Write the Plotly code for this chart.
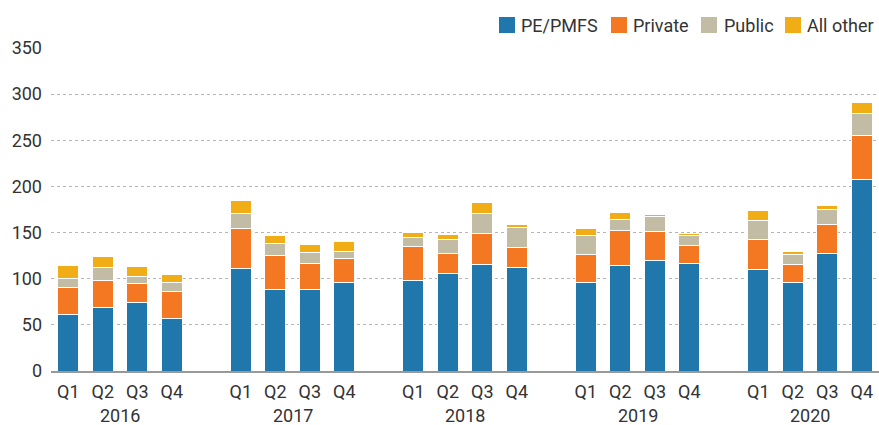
import plotly.graph_objects as go

years = ["2016", "2017", "2018", "2019", "2020"]
quarters = ["Q1", "Q2", "Q3", "Q4"]

pe_pmfs = [61, 68.5, 74, 57,   111, 88, 88, 96,   98, 106, 115.5, 112,   96, 114, 120, 116.5,   110, 96, 127, 207]
private = [29.5, 30, 20.5, 29, 43, 37, 29, 26,    37, 21, 33.5, 22,      30, 38, 31, 19,        32, 19.5, 32, 48.5]
public  = [10, 13.5, 7.5, 10,  17, 13, 11, 8,     10, 15, 22, 21,        21, 12, 16, 11,        21, 11, 15.5, 23]
other   = [14, 12.5, 11.5, 9,  14, 9, 9, 10,      5, 6, 11.5, 4,         7, 8, 3, 3,            10.5, 3, 5, 12]

series_names = ["PE/PMFS", "Private", "Public", "All other"]
series_vals = [pe_pmfs, private, public, other]
series_colors = ["#1f77ac", "#f47721", "#c2bca4", "#f0ad16"]

# slot positions: one empty slot between year groups
xpos = []
xlab = []
for gi, y in enumerate(years):
    for qi, q in enumerate(quarters):
        xpos.append(gi * 5 + qi)
        xlab.append(q)

FONT = "Roboto"
TXT = "#333333"
W, H = 879, 425
ML, MR, MT, MB = 51, 0, 48, 54
PW, PH = W - ML - MR, H - MT - MB

def px_x(px):
    return (px - ML) / PW

def px_y(py):
    return (H - MB - py) / PH

fig = go.Figure()
for name, vals, col in zip(series_names, series_vals, series_colors):
    fig.add_trace(go.Bar(
        x=xpos, y=vals, name=name, width=0.62,
        marker=dict(color=col, line=dict(color="white", width=1)),
        showlegend=False,
    ))

# year labels under each group
for gi, y in enumerate(years):
    fig.add_annotation(x=gi * 5 + 1.5, y=0, xref="x", yref="y", text=y,
                       showarrow=False, yanchor="middle", yshift=-44,
                       font=dict(family=FONT, size=18, color=TXT))

# custom legend (square swatches + labels)
leg_sq_left = [499, 611, 701, 785]
leg_txt_left = [520, 632, 723, 806]
for name, col, sx, tx in zip(series_names, series_colors, leg_sq_left, leg_txt_left):
    fig.add_shape(type="rect", xref="paper", yref="paper",
                  x0=px_x(sx), x1=px_x(sx + 16), y0=px_y(33), y1=px_y(17),
                  fillcolor=col, line=dict(width=0))
    fig.add_annotation(x=px_x(tx), y=px_y(25), xref="paper", yref="paper",
                       text=name, showarrow=False, xanchor="left", yanchor="middle",
                       xshift=-1, font=dict(family=FONT, size=18, color=TXT))

fig.update_layout(
    barmode="stack",
    width=W, height=H,
    margin=dict(l=ML, r=MR, t=MT, b=MB),
    plot_bgcolor="white", paper_bgcolor="white",
    font=dict(family=FONT, size=18, color=TXT),
    showlegend=False,
)
fig.update_xaxes(
    tickmode="array", tickvals=xpos, ticktext=xlab,
    range=[-0.5, 23.5], showgrid=False, zeroline=False,
    showline=True, linecolor="#999999", linewidth=1.5, ticks="",
    ticklabelstandoff=4, tickfont=dict(family=FONT, size=18, color=TXT),
)
fig.update_yaxes(
    range=[0, 350], tick0=0, dtick=50,
    showgrid=True, gridcolor="#b5b5b5", griddash="dot", gridwidth=1,
    zeroline=False, showline=False, ticks="", ticklabelstandoff=8,
    tickfont=dict(family=FONT, size=18, color=TXT),
)

fig.write_html("out.html", config={"displayModeBar": False},
               post_script="document.body.style.margin='0';document.body.style.overflow='hidden';")
